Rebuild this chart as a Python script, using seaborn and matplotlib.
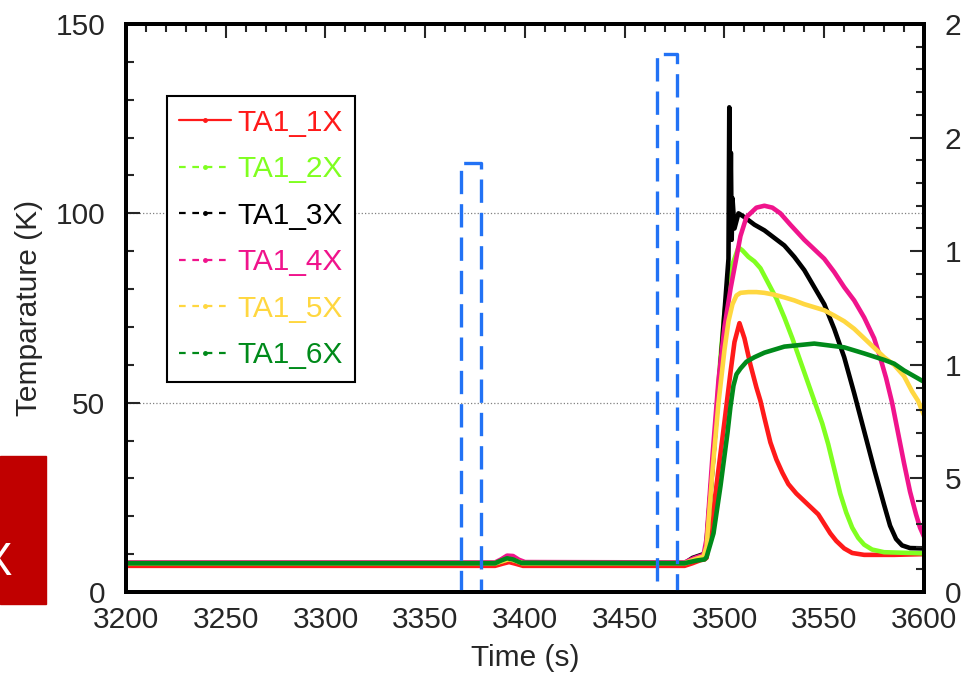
import pandas as pd
import seaborn as sns
import matplotlib.pyplot as plt
from matplotlib.lines import Line2D
from matplotlib.patches import Rectangle
from matplotlib.ticker import MultipleLocator

# --- data (time in s, temperature in K) ---
t_1x = [3200, 3385, 3389, 3392, 3395, 3399, 3480, 3484, 3488, 3490, 3491, 3495, 3500, 3503, 3505,
        3507.5, 3510, 3513, 3516, 3518, 3520, 3523, 3526, 3529, 3532, 3536, 3540, 3544, 3547,
        3550, 3553, 3556, 3560, 3564, 3570, 3585, 3600]
v_1x = [6.9, 6.9, 7.5, 7.9, 7.5, 6.9, 6.9, 7.6, 8.4, 8.6, 9.0, 24, 45, 58, 66,
        71, 67, 60, 54, 50.5, 46, 39.5, 35, 31.5, 28.5, 26, 24, 22, 20.5,
        18, 15.5, 13.5, 11.5, 10.3, 9.8, 9.8, 10]

t_2x = [3200, 3385, 3389, 3392, 3395, 3399, 3480, 3485, 3489.5, 3491, 3495, 3498, 3500, 3503,
        3507, 3509, 3512, 3515, 3518, 3522, 3526, 3530, 3534, 3538, 3542, 3546, 3549, 3552,
        3555, 3558, 3561, 3564, 3567, 3570, 3574, 3580, 3600]
v_2x = [7.5, 7.5, 8.2, 8.7, 8.3, 7.5, 7.5, 8.4, 9.2, 12, 40, 62, 74, 85,
        91, 90.2, 88.5, 87.3, 85.5, 81.5, 77.5, 72.5, 67, 61, 55, 49, 44.5, 39,
        32.5, 26, 21, 17, 14.3, 12.5, 11.2, 10.5, 10.2]

t_3x = [3200, 3385, 3389, 3392, 3395, 3399, 3480, 3484, 3489.5, 3490.5, 3494, 3497, 3501,
        3502, 3502.4, 3502.8, 3503.2, 3503.6, 3504, 3505, 3507, 3510, 3515, 3520, 3525,
        3530, 3535, 3540, 3545, 3550, 3555, 3560, 3565, 3570, 3575, 3580, 3583, 3586, 3589,
        3593, 3600]
v_3x = [7.6, 7.6, 8.4, 9.2, 8.8, 7.6, 7.6, 9.0, 10, 10, 33, 53, 81,
        88, 128, 96, 116, 93, 104, 96, 100, 99, 97, 95.5, 93.5,
        91.5, 88.5, 85, 80.5, 76, 69.5, 62, 52.5, 42.5, 32.5, 23, 17.5, 14, 12.3,
        11.6, 11.5]

t_4x = [3200, 3385, 3388, 3391, 3394, 3397, 3400, 3480, 3485, 3489.5, 3491, 3494, 3497, 3500,
        3503, 3508, 3511, 3516, 3520, 3524, 3528, 3533, 3540, 3545, 3550, 3555, 3560, 3565,
        3570, 3575, 3578, 3581, 3584, 3587, 3590, 3593, 3596, 3598, 3600]
v_4x = [7.8, 7.8, 8.6, 9.6, 9.5, 8.5, 7.9, 7.8, 9.0, 9.8, 14, 36, 56, 70,
        80, 94, 99, 101.5, 102, 101.5, 100, 97, 93, 90.5, 88, 84.5, 80.5, 77,
        72.5, 67, 62, 56.5, 50, 42, 34, 26.5, 20.5, 17, 14.6]

t_5x = [3200, 3385, 3389, 3392, 3395, 3399, 3480, 3486, 3489.5, 3491, 3494, 3497, 3500, 3502,
        3504, 3506, 3508, 3512, 3516, 3520, 3525, 3530, 3535, 3540, 3545, 3550, 3555, 3560,
        3565, 3570, 3575, 3580, 3585, 3590, 3594, 3597, 3600]
v_5x = [7.6, 7.6, 8.2, 8.7, 8.3, 7.6, 7.6, 8.8, 9.4, 12, 32, 50, 64, 71.5,
        76, 78.3, 79, 79.2, 79.2, 79, 78.5, 77.8, 77, 76, 75.2, 74.4, 73, 71.5,
        69.5, 67, 64.5, 62, 60, 57, 53, 50.5, 46.7]

t_6x = [3200, 3385, 3388, 3391, 3394, 3398, 3480, 3486, 3490, 3491, 3494.5, 3498, 3501.5,
        3503, 3504.5, 3506, 3508, 3511, 3515, 3520, 3530, 3545, 3560, 3570, 3580, 3585,
        3590, 3595, 3600]
v_6x = [7.6, 7.6, 8.3, 8.9, 8.6, 7.7, 7.6, 8.3, 8.6, 9.2, 15.5, 28, 42,
        49, 54.5, 57.5, 59, 60.8, 62, 63.2, 64.8, 65.6, 64.6, 63, 61.3, 60.3,
        58.5, 57, 55.5]

# heater power pulses (right axis)
t_heat = [3200, 3368, 3368, 3378, 3378, 3466, 3466, 3476, 3476, 3600]
v_heat = [0, 0, 189, 189, 0, 0, 237, 237, 0, 0]

labels = ['TA1_1X', 'TA1_2X', 'TA1_3X', 'TA1_4X', 'TA1_5X', 'TA1_6X']
colors = ['#ff1a1a', '#80ff20', '#000000', '#f0148c', '#ffd740', '#008a1a']

series = [(t_1x, v_1x), (t_2x, v_2x), (t_3x, v_3x), (t_4x, v_4x), (t_5x, v_5x), (t_6x, v_6x)]
df = pd.concat([pd.DataFrame({'time': t, 'temp': v, 'sensor': lab})
                for (t, v), lab in zip(series, labels)], ignore_index=True)
heat = pd.DataFrame({'time': t_heat, 'power': v_heat})

sns.set_style('white')
plt.rcParams['font.family'] = ['Liberation Sans', 'DejaVu Sans']
fs = 21.5

fig = plt.figure(figsize=(9.61, 6.76), dpi=100)
ax = fig.add_axes([0.1311, 0.1243, 0.8304, 0.8402])

sns.lineplot(data=df, x='time', y='temp', hue='sensor', hue_order=labels,
             palette=dict(zip(labels, colors)), estimator=None, sort=False,
             linewidth=3.3, legend=False, ax=ax)

ax.set_xlim(3200, 3600)
ax.set_ylim(0, 150)
ax.xaxis.set_major_locator(MultipleLocator(50))
ax.xaxis.set_minor_locator(MultipleLocator(10))
ax.yaxis.set_major_locator(MultipleLocator(50))
ax.yaxis.set_minor_locator(MultipleLocator(10))
ax.tick_params(which='both', direction='in', top=True, right=False, width=1.5, labelsize=fs)
ax.tick_params(which='major', length=10)
ax.tick_params(which='minor', length=6)
ax.tick_params(axis='x', pad=10)
ax.tick_params(axis='y', pad=15)
ax.yaxis.grid(True, which='major', linestyle=':', color='#808080', linewidth=0.9)
for s in ax.spines.values():
    s.set_linewidth(2.8)
    s.set_color('black')
ax.set_xlabel('Time (s)', fontsize=fs, labelpad=7)
ax.set_ylabel('Temparature (K)', fontsize=fs, labelpad=9)

# right axis: heater pulses
ax2 = ax.twinx()
sns.lineplot(data=heat, x='time', y='power', estimator=None, sort=False,
             color='#2272f5', linewidth=2.4, linestyle=(0, (7, 3)), ax=ax2)
ax2.set_ylim(0, 250)
ax2.set_xlim(3200, 3600)
ax2.yaxis.set_major_locator(MultipleLocator(50))
ax2.yaxis.set_minor_locator(MultipleLocator(10))
ax2.tick_params(which='both', direction='in', width=1.5, labelsize=fs, pad=15)
ax2.tick_params(which='major', length=10)
ax2.tick_params(which='minor', length=6)
ax2.set_ylabel('')
ax2.set_xlabel('')
for s in ax2.spines.values():
    s.set_linewidth(2.8)
    s.set_color('black')

handles = [Line2D([], [], color=c, lw=1.6, ls='-' if i == 0 else (0, (3, 3)),
                  marker='o', markersize=2.5) for i, c in enumerate(colors)]
leg = ax.legend(handles, labels, loc='upper left', bbox_to_anchor=(0.051, 0.873),
                borderaxespad=0, fontsize=fs, labelspacing=0.62, handlelength=1.75,
                handletextpad=0.2, borderpad=0.42, numpoints=1, fancybox=False,
                framealpha=1, edgecolor='black', facecolor='white')
leg.get_frame().set_linewidth(1.5)
for txt, c in zip(leg.get_texts(), colors):
    txt.set_color(c)

# red box overlay at the lower left edge
fig.add_artist(Rectangle((0, 1 - 604 / 676), 46 / 961, 148 / 676,
                         transform=fig.transFigure, color='#c00000', zorder=5))
fig.text(-0.003, 1 - 563 / 676, 'X', color='white', fontsize=33,
         ha='center', va='center', zorder=6)

fig.savefig('out.png', dpi=100)
